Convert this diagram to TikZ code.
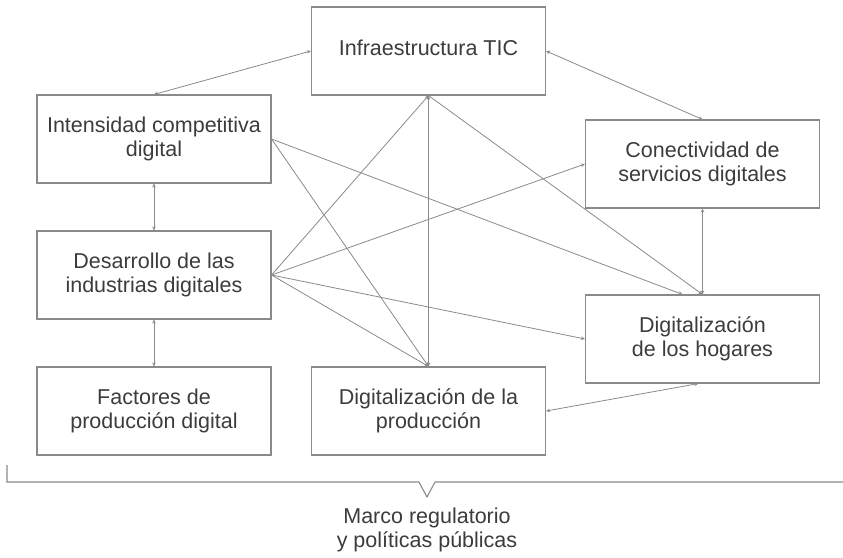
\documentclass[tikz,border=0pt]{standalone}
\usepackage{fontspec}
\setmainfont{Liberation Sans}
\usetikzlibrary{arrows.meta}

\definecolor{linegray}{HTML}{8A8A8A}
\definecolor{textgray}{HTML}{3C3C3C}

\tikzset{
  caja/.style={draw=linegray, line width=1.1pt, minimum width=234pt, minimum height=88pt,
    inner sep=0pt, align=center, text=textgray, font=\fontsize{21.5}{23.5}\selectfont},
  flecha/.style={draw=linegray, line width=0.8pt}
}

\begin{document}
\begin{tikzpicture}[x=1pt, y=-1pt, >={Stealth[length=4pt, width=3.5pt]}]

\useasboundingbox (0,0) rectangle (843,557);

\node[caja] (infra)  at (428.5, 51) {\raisebox{6pt}{Infraestructura TIC}};
\node[caja] (intens) at (154, 139) {Intensidad competitiva\\digital};
\node[caja] (desarr) at (154, 275) {Desarrollo de las\\industrias digitales};
\node[caja] (factor) at (154, 411) {Factores de\\producción digital};
\node[caja] (prod)   at (428.5, 411) {Digitalización de la\\producción};
\node[caja] (conect) at (702.5, 164) {Conectividad de\\servicios digitales};
\node[caja] (hogar)  at (702.5, 339) {Digitalización\\de los hogares};

% relaciones de ida y vuelta
\draw[flecha, <->] (infra.west) -- (intens.north);
\draw[flecha, <->] (infra.east) -- (conect.north);
\draw[flecha, <->] (intens.south) -- (desarr.north);
\draw[flecha, <->] (desarr.south) -- (factor.north);
\draw[flecha, <->] (conect.south) -- (hogar.north);
\draw[flecha, <->] ([xshift=-4pt]hogar.south) -- (prod.east);
\draw[flecha, <->] (infra.south) -- (prod.north);

% relaciones en un sentido
\draw[flecha, ->] (intens.east) -- (prod.north);
\draw[flecha, ->] (intens.east) -- ([xshift=-20pt]hogar.north);
\draw[flecha, ->] (infra.south) -- (hogar.north);
\draw[flecha, ->] (desarr.east) -- (infra.south);
\draw[flecha, ->] (desarr.east) -- (conect.west);
\draw[flecha, ->] (desarr.east) -- (hogar.west);
\draw[flecha, ->] (desarr.east) -- (prod.north);

% llave inferior
\draw[linegray, line width=1.1pt] (7,465) |- (419,482) -- (427,497) -- (435,482) -- (843,482);
\node[align=center, text=textgray, font=\fontsize{21.5}{23.5}\selectfont] (marco) at (427, 530)
  {Marco regulatorio\\y políticas públicas};

\end{tikzpicture}
\end{document}
